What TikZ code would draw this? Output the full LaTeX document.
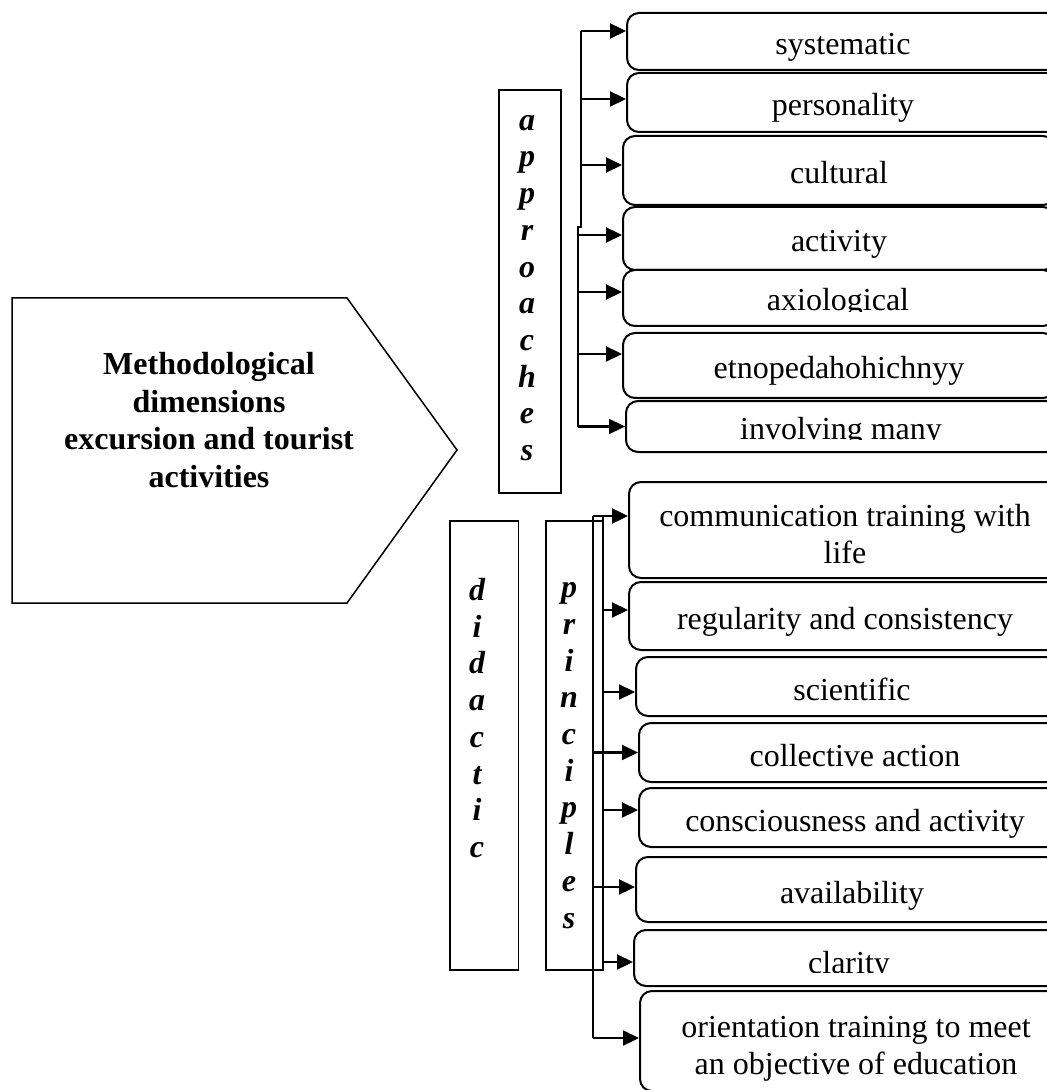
\documentclass[tikz,border=0pt]{standalone}
\usepackage{fontspec}
\setmainfont{Liberation Serif}
\usetikzlibrary{arrows.meta}

\begin{document}
\begin{tikzpicture}[x=0.5pt, y=-0.5pt, font=\fontsize{16}{18.5}\selectfont]
% Define styles
\tikzstyle{item} = [rectangle, rounded corners=6pt, draw=black, line width=1pt, minimum width=216pt, anchor=west, inner sep=2pt, align=center,
  execute at begin node={\rule[-4pt]{0pt}{21.5pt}}, execute at end node={\rule[-4pt]{0pt}{18pt}}]
\tikzstyle{frame} = [rectangle, draw=black, line width=0.9pt, inner sep=0pt]
\tikzstyle{letters} = [align=center, font=\fontsize{16}{18.35}\selectfont\bfseries\itshape]
\tikzstyle{link} = [line width=1pt]
\tikzstyle{arrow} = [line width=1.1pt, -{Triangle[length=8pt,width=7.5pt]}]

\useasboundingbox (0,0) rectangle (1047,1090);
\clip (0,0) rectangle (1047,1090);

% Main block
\draw [line width=0.75pt] (12,298) -- (347,298) -- (457,450) -- (347,603) -- (12,603) -- cycle;
\node (dims) [align=center, font=\fontsize{16}{18.8}\selectfont\bfseries] at (209,420) {Methodological\\dimensions\\excursion and tourist\\activities};

% Vertical frames
\node (apprbox) [frame, minimum width=31pt, minimum height=201.5pt] at (529.7,291.5) {};
\node (appr) [letters] at (527,288) {a\\p\\p\\r\\o\\a\\c\\h\\e\\s};
\node (didbox) [frame, minimum width=34.2pt, minimum height=224.7pt] at (484.2,745.4) {};
\node (did) [letters] at (477,718) {d\\i\\d\\a\\c\\t\\i\\c};
\node (princbox) [frame, minimum width=28.7pt, minimum height=224.7pt] at (574.7,745.4) {};
\node (princ) [letters] at (569,755.5) {p\\r\\i\\n\\c\\i\\p\\l\\e\\s};

% Approaches
\node (sys) [item, minimum height=28.5pt] at (626,41.5) {systematic};
\node (pers) [item, minimum height=29.5pt] at (626,102.5) {personality};
\node (cult) [item, minimum height=34.5pt] at (622,170.5) {cultural};
\node (act) [item, minimum height=31.5pt] at (622,238.5) {activity};
\node (axio) [item, minimum height=28pt] at (622,298) {};
\begin{scope}
\clip (622,270) rectangle (1047,311.5);
\node (axiotxt) [anchor=base] at (838,311) {axiological};
\end{scope}
\node (etno) [item, minimum height=32.5pt] at (622,365.5) {etnopedahohichnyy};
\node (invol) [item, minimum height=25.5pt] at (625,426.5) {};
\begin{scope}
\clip (625,401) rectangle (1047,439.5);
\node (involtxt) [anchor=base] at (841,439) {involving many};
\end{scope}

% Principles
\node (comm) [item, minimum height=48pt] at (628,530) {\rule{0pt}{19pt}communication training with\\life};
\node (regul) [item, minimum height=34pt] at (628,616) {regularity and consistency};
\node (sci) [item, minimum height=29.5pt] at (635,686.5) {scientific};
\node (coll) [item, minimum height=29.5pt] at (638,752.5) {collective action};
\node (consc) [item, minimum height=29.5pt] at (638,817.5) {consciousness and activity};
\node (avail) [item, minimum height=32.5pt] at (635,889.5) {availability};
\node (clar) [item, minimum height=28pt] at (633,958) {};
\begin{scope}
\clip (633,930) rectangle (1047,972.5);
\node (clartxt) [anchor=base] at (849,973) {clarity};
\end{scope}
\node (orient) [item, minimum height=50pt] at (639,1041) {\rule{0pt}{19pt}orientation training to meet\\an objective of education};

% Brackets
\coordinate (aTop) at (581,31);
\coordinate (aJog) at (581,227);
\coordinate (aJog2) at (578,227);
\coordinate (aBot) at (578,427);
\draw [link] (aTop) -- (aJog) -- (aJog2) -- (aBot);

\coordinate (pA) at (593,516);
\coordinate (pAend) at (593,1038);
\coordinate (pB) at (603,516);
\coordinate (pBend) at (603,970);
\draw [line width=0.7pt] (pA) -- (pAend);
\draw [link] (pB) -- (pBend);

% Arrows
\draw [arrow] ([yshift=5.25pt]sys.west -| aTop) -- ([yshift=5.25pt]sys.west);
\draw [arrow] ([yshift=1.75pt]pers.west -| aTop) -- ([yshift=1.75pt]pers.west);
\draw [arrow] ([yshift=2.75pt]cult.west -| aTop) -- ([yshift=2.75pt]cult.west);
\draw [arrow] ([yshift=1.75pt]act.west -| aBot) -- ([yshift=1.75pt]act.west);
\draw [arrow] ([yshift=3pt]axio.west -| aBot) -- ([yshift=3pt]axio.west);
\draw [arrow] ([yshift=5.75pt]etno.west -| aBot) -- ([yshift=5.75pt]etno.west);
\draw [arrow] (invol.west -| aBot) -- (invol.west);

\draw [arrow] ([yshift=7pt]comm.west -| pA) -- ([yshift=7pt]comm.west);
\draw [arrow] ([yshift=3pt]regul.west -| pB) -- ([yshift=3pt]regul.west);
\draw [arrow] ([yshift=-2.75pt]sci.west -| pB) -- ([yshift=-2.75pt]sci.west);
\draw [arrow] (coll.west -| pA) -- (coll.west);
\draw [arrow] ([yshift=3.75pt]consc.west -| pB) -- ([yshift=3.75pt]consc.west);
\draw [arrow] ([yshift=1.25pt]avail.west -| pA) -- ([yshift=1.25pt]avail.west);
\draw [arrow] ([yshift=-2pt]clar.west -| pB) -- ([yshift=-2pt]clar.west);
\draw [arrow] ([yshift=1.5pt]orient.west -| pA) -- ([yshift=1.5pt]orient.west);

\end{tikzpicture}
\end{document}
